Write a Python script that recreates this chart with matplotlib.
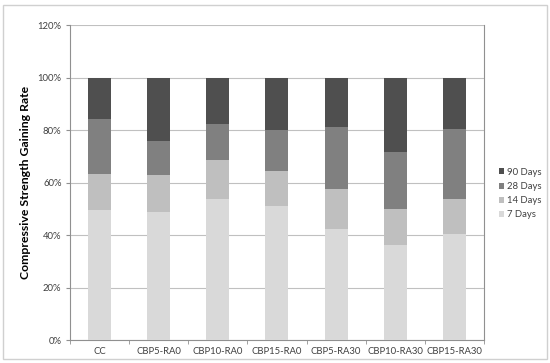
import matplotlib.pyplot as plt
import numpy as np
from matplotlib.patches import Rectangle
from matplotlib.ticker import FuncFormatter

plt.rcParams['font.family'] = ['Lato', 'DejaVu Sans']

# categories and stacked segments (% of 90-day strength)
mixes = ['CC', 'CBP5-RA0', 'CBP10-RA0', 'CBP15-RA0', 'CBP5-RA30', 'CBP10-RA30', 'CBP15-RA30']
days7 = [49.7, 48.7, 53.6, 51.0, 42.3, 36.4, 40.4]
days14 = [13.4, 14.2, 15.0, 13.6, 15.2, 13.4, 13.2]
days28 = [21.2, 12.9, 13.9, 15.5, 23.7, 21.7, 26.9]
days90 = [100 - a - b - c for a, b, c in zip(days7, days14, days28)]

series = [('7 Days', days7, '#d9d9d9'),
          ('14 Days', days14, '#bfbfbf'),
          ('28 Days', days28, '#808080'),
          ('90 Days', days90, '#4f4f4f')]

fig = plt.figure(figsize=(5.5, 3.63), dpi=100)
# chart area border
fig.patches.append(Rectangle((0.006, 0.012), 0.988, 0.975, transform=fig.transFigure,
                             fill=False, edgecolor='#d0d0d0', linewidth=1))
ax = fig.add_axes([0.127, 0.063, 0.753, 0.868])

x = np.arange(len(mixes))
bottom = np.zeros(len(mixes))
handles = []
for name, vals, col in series:
    b = ax.bar(x, vals, 0.39, bottom=bottom, color=col, label=name, zorder=3)
    handles.append(b)
    bottom += np.array(vals)

ax.set_xlim(-0.5, len(mixes) - 0.5)
ax.set_ylim(0, 120)
ax.set_yticks(np.arange(0, 121, 20))
ax.yaxis.set_major_formatter(FuncFormatter(lambda v, p: f'{v:.0f}%'))
ax.grid(axis='y', color='#c0c0c0', linewidth=0.8, zorder=0)

ax.set_xticks(x)
ax.set_xticklabels(mixes)
ax.set_xticks(np.arange(-0.5, len(mixes), 1), minor=True)
ax.tick_params(axis='x', which='major', length=0, labelsize=6.8, colors='#404040', pad=5)
ax.tick_params(axis='x', which='minor', length=3, color='#909090')
ax.tick_params(axis='y', length=3, color='#909090', labelsize=6.8, labelcolor='#404040', pad=3)

for s in ['left', 'right', 'bottom']:
    ax.spines[s].set_color('#909090')
    ax.spines[s].set_linewidth(0.8)
ax.spines['top'].set_visible(False)

ax.set_ylabel('Compressive Strength Gaining Rate', fontsize=8.8, fontweight='bold', labelpad=5)

leg = ax.legend(handles[::-1], [s[0] for s in series][::-1], loc='center left',
                bbox_to_anchor=(1.015, 0.465), frameon=False, fontsize=6.8,
                handlelength=0.6, handleheight=0.6, handletextpad=0.3, labelspacing=0.55)
for t in leg.get_texts():
    t.set_color('#404040')

fig.savefig('out.png', dpi=100)
